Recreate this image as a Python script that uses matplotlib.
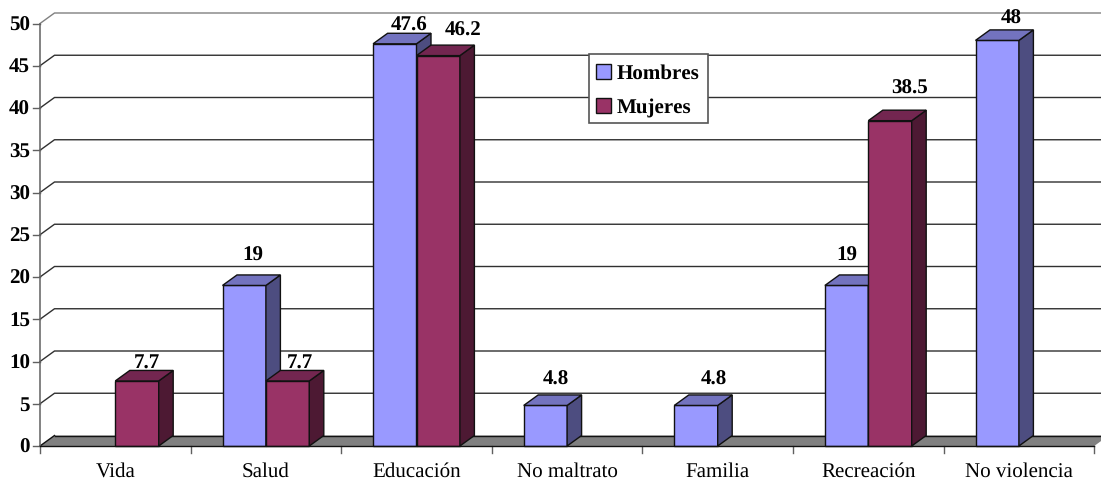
import matplotlib
matplotlib.use("Agg")
import matplotlib.pyplot as plt
from matplotlib.patches import Polygon, Patch, Rectangle
from matplotlib.transforms import IdentityTransform

categories = ["Vida", "Salud", "Educación", "No maltrato", "Familia", "Recreación", "No violencia"]
hombres = [None, 19, 47.6, 4.8, 4.8, 19, 48]
mujeres = [7.7, 7.7, 46.2, None, None, 38.5, None]
y_ticks = [0, 5, 10, 15, 20, 25, 30, 35, 40, 45, 50]

# label nudges in pixels (from default position above bar's back edge)
h_nudge = [None, (-6, 21), (0, 10), (-4, 18), (3, 18), (-14, 21), (0, 13)]
m_nudge = [(-5, 9), (-2, 9), (10, 17), None, None, (5, 24), None]

W, H = 1101, 482
X0, UX = 115.3, 150.6
Y0, UY = 446.0, 8.45
DX, DY = 14.5 / UX, 10.5 / UY
BW = 43.4 / UX

plt.rcParams["font.family"] = ["Liberation Serif", "DejaVu Serif"]
plt.rcParams["text.hinting"] = "no_hinting"
plt.rcParams["text.hinting_factor"] = 1
fig = plt.figure(figsize=(W / 100, H / 100), dpi=100)
ax = fig.add_axes([0, 0, 1, 1])
ax.set_xlim(-X0 / UX, (W - X0) / UX)
ax.set_ylim((Y0 - H) / UY, Y0 / UY)
ax.axis("off")

left = -0.5
right = len(categories) - 0.5
LW = 1.0

# floor
ax.add_patch(Polygon([(left, 0), (left + DX, DY), (right + DX, DY), (right, 0)],
                     facecolor="#808080", edgecolor="none", zorder=1))
ax.plot([left + DX, right + DX], [DY, DY], color="#111111", lw=LW, zorder=1.5)

# gridlines and wall
for t in y_ticks[1:]:
    col = "#808080" if t == 50 else "#303030"
    ax.plot([left, left + DX, right + DX + 0.2], [t, t + DY, t + DY], color=col, lw=LW, zorder=1)
ax.plot([left, left + DX], [0, DY], color="#111111", lw=LW, zorder=1.5)

# axes lines and ticks
ax.plot([left, left], [0, 50], color="#606060", lw=1.1, zorder=2)
ax.plot([left, right], [0, 0], color="#111111", lw=1.0, zorder=6)
for t in y_ticks:
    ax.plot([left - 7 / UX, left], [t, t], color="#606060", lw=LW, zorder=2)
    ax.text(left - 10 / UX, t, str(t), ha="right", va="center_baseline", fontsize=15, fontweight="bold", color="black")
for i in range(len(categories) + 1):
    ax.plot([left + i, left + i], [0, -7 / UY], color="#606060", lw=LW, zorder=2)
for i, c in enumerate(categories):
    ax.text(i, (Y0 - 476.5) / UY, c, ha="center", va="baseline", fontsize=14.9, color="black")


def bar3d(x, v, front, side, top, z):
    ax.bar(x, v, width=BW, align="edge", color=front, edgecolor="#111111", linewidth=LW, zorder=z)
    ax.add_patch(Polygon([(x + BW, 0), (x + BW + DX, DY), (x + BW + DX, v + DY), (x + BW, v)],
                         facecolor=side, edgecolor="#111111", lw=LW, zorder=z))
    ax.add_patch(Polygon([(x, v), (x + DX, v + DY), (x + BW + DX, v + DY), (x + BW, v)],
                         facecolor=top, edgecolor="#111111", lw=LW, zorder=z))


def label(x, v, nudge):
    ax.annotate(f"{v:g}", xy=(x + BW / 2 + DX, v + DY), xytext=nudge, textcoords="offset pixels",
                ha="center", va="center_baseline", fontsize=15.3, fontweight="bold", color="black", zorder=10)


for i in range(len(categories)):
    if hombres[i] is not None:
        bar3d(i - BW, hombres[i], "#9999FF", "#4D4D80", "#7373BF", 3 + i * 0.1)
        label(i - BW, hombres[i], h_nudge[i])
    if mujeres[i] is not None:
        bar3d(i, mujeres[i], "#993366", "#4D1933", "#732650", 3.05 + i * 0.1)
        label(i, mujeres[i], m_nudge[i])

ax.add_patch(Rectangle((589, H - 123), 119, 69, transform=IdentityTransform(),
                       facecolor="white", edgecolor="#555555", lw=1.2, zorder=19))
handles = [Patch(facecolor="#9999FF", edgecolor="#111111", label="Hombres"),
           Patch(facecolor="#993366", edgecolor="#111111", label="Mujeres")]
leg = ax.legend(handles=handles, loc="upper left", bbox_to_anchor=(588.5, H - 57),
                bbox_transform=IdentityTransform(), frameon=False,
                borderaxespad=0, borderpad=0.35, handlelength=0.72,
                handleheight=0.72, handletextpad=0.3, labelspacing=0.72,
                prop={"size": 15, "weight": "bold"})
leg.set_zorder(20)

fig.savefig("out.png", dpi=100)
